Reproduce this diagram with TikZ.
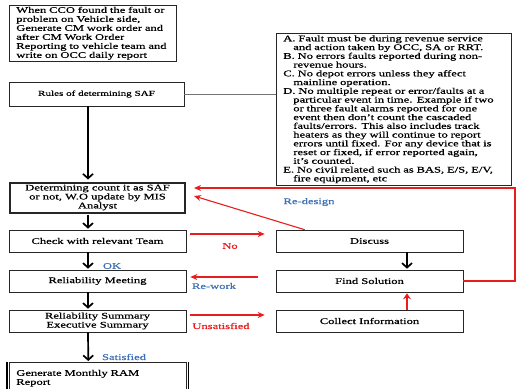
\documentclass[tikz,border=0pt]{standalone}
\usepackage{fontspec}
\setmainfont[FakeStretch=1.46, FakeBold=0.7]{Liberation Serif}
\usetikzlibrary{positioning, arrows.meta, calc}
\definecolor{flowred}{RGB}{232,30,30}
\definecolor{flowblue}{RGB}{62,112,180}
\tikzset{
  arr/.style={-{Straight Barb[length=4.5pt,width=10pt]}, line width=1.7pt, draw=black},
  rarr/.style={-{Stealth[length=7pt,width=6pt]}, line width=1.1pt, draw=flowred},
  blk/.style={draw=black!85, line width=0.6pt, align=center, inner sep=1.5pt, fill=white,
    minimum width=177pt, minimum height=22pt},
  lab/.style={inner sep=1pt}
}
\newcommand{\hang}{\hspace*{10pt}}

\begin{document}
\begin{tikzpicture}[x=1pt, y=1pt, font=\fontsize{8.6}{9}\selectfont]
\useasboundingbox (0,0) rectangle (518,-388);
% left column
\node[blk, text width=153pt, align=left, inner xsep=7pt, minimum width=0pt, anchor=north west] (cco)
  at (9,-5)
  {When CCO found the fault or\\problem on Vehicle side,\\Generate CM work order and\\
   after CM Work Order\\Reporting to vehicle team and\\write on OCC daily report};
\node[blk, minimum width=175pt, minimum height=24pt, font=\fontsize{7.6}{9}\selectfont] (rules)
  at (96.5,-94) {Rules of determining SAF};
\node[blk, line width=2pt, minimum width=175pt, minimum height=30pt, inner ysep=1pt] (saf)
  at (97.5,-197.5)
  {Determining count it as SAF\\or not, W.O update by MIS\\Analyst};
\node[blk] (check) at (97.5,-241) {Check with relevant Team};
\node[blk] (meet) at (97.5,-281) {Reliability Meeting};
\node[blk] (summ) at (97.5,-321) {Reliability Summary\\Executive Summary};
\node[blk, text width=163pt, align=left, inner xsep=7pt, minimum width=0pt, minimum height=29pt,
  anchor=north west, text depth=8pt] (gen) at (9,-362) {Generate Monthly RAM\\Report};
\draw[line width=1.2pt] ([xshift=-2pt]gen.north west) -- ([xshift=-2pt]gen.south west);
\draw[line width=1.2pt] ([xshift=2pt]gen.north east) -- ([xshift=2pt]gen.south east);

% rules list
\node[blk, text width=221pt, align=left, inner xsep=7pt, inner ysep=2pt, minimum width=0pt,
  anchor=north west, font=\fontsize{8.6}{8.75}\selectfont] (list) at (276,-33)
  {A. Fault must be during revenue service\\
   \hang and action taken by OCC, SA or RRT.\\
   B. No errors faults reported during non-\\
   \hang revenue hours.\\
   C. No depot errors unless they affect\\
   \hang mainline operation.\\
   D. No multiple repeat or error/faults at a\\
   \hang particular event in time. Example if two\\
   \hang or three fault alarms reported for one\\
   \hang event then don't count the cascaded\\
   \hang faults/errors. This also includes track\\
   \hang heaters as they will continue to report\\
   \hang errors until fixed. For any device that is\\
   \hang reset or fixed, if error reported again,\\
   \hang it's counted.\\
   E. No civil related such as BAS, E/S, E/V,\\
   \hang fire equipment, etc};

% right column
\node[blk, minimum width=187pt] (discuss) at (369.5,-241) {Discuss};
\node[blk, minimum width=187pt] (find) at (369.5,-281) {Find Solution};
\node[blk, minimum width=187pt] (collect) at (369.5,-321) {Collect Information};

% main flow
\draw[black!55, line width=0.7pt] (rules.east) -- (rules.east -| list.west);
\draw[arr] ($(rules.south)+(-8.5,0)$) -- ($(saf.north)+(-9.5,2)$);
\draw[arr] ($(saf.south)+(-9.5,-1)$) -- ($(check.north)+(-9.5,1)$);
\draw[arr] ($(check.south)+(-9.5,0)$) -- ($(meet.north)+(-9.5,1)$);
\draw[arr] ($(meet.south)+(-9.5,0)$) -- ($(summ.north)+(-9.5,1)$);
\draw[arr] ($(summ.south)+(-9.5,0)$) -- ($(gen.north)+(-9.5,1)$);
\node[lab, text=flowblue] (ok) at (112,-266) {OK};
\node[lab, text=flowblue] (sat) at (124,-357) {Satisfied};

% feedback
\draw[rarr] ($(check.east)+(4,7)$) -- ($(discuss.west)+(-11,7)$);
\node[lab, text=flowred] (no) at (230,-246) {No};
\draw[rarr] ($(find.west)+(-18,4)$) -- ($(meet.east)+(4,4)$);
\node[lab, text=flowblue] (rework) at (214,-286) {Re-work};
\draw[rarr] ($(summ.east)+(4,6)$) -- ($(collect.west)+(-11,6)$);
\node[lab, text=flowred] (unsat) at (221,-326) {Unsatisfied};
\draw[rarr] ($(discuss.north west)+(29,0)$) -- ($(saf.east)+(8,1.5)$);
\node[lab, text=flowblue] (redesign) at (309,-202) {Re-design};
\draw[rarr, line width=2pt] (find.east) -- ++(52,0) |- ($(saf.east)+(8,9.5)$);
\draw[arr] ($(discuss.south)+(37.5,0)$) -- ($(find.north)+(37.5,1)$);
\draw[rarr, line width=2.2pt, -{Stealth[length=6pt,width=8pt]}]
  ($(collect.north)+(37.5,0)$) -- ($(find.south)+(37.5,-1)$);
\end{tikzpicture}
\end{document}
